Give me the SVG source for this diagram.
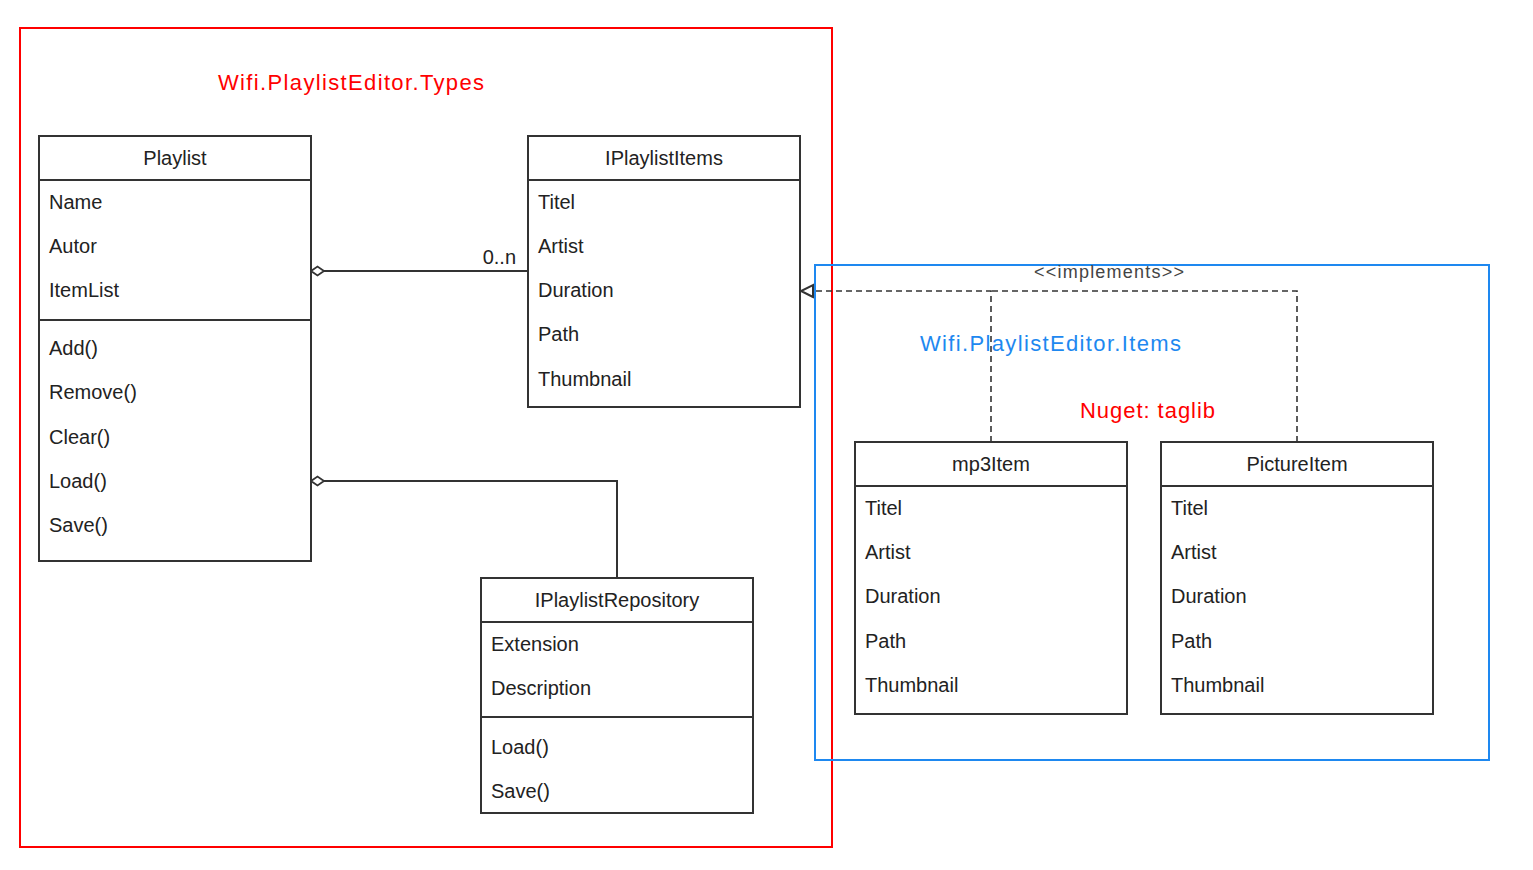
<svg xmlns="http://www.w3.org/2000/svg" width="1533" height="870" viewBox="0 0 1533 870">
<style>
.box{fill:#fff;stroke:#333;stroke-width:2}
.ln{fill:none;stroke:#333;stroke-width:2}
.t{font-family:"Liberation Sans",Arial,sans-serif;font-size:20px;fill:#222;dominant-baseline:central}
.h{text-anchor:middle}
.pkg{font-family:"Liberation Sans",Arial,sans-serif;font-size:22px;dominant-baseline:central}
.dash{fill:none;stroke:#333;stroke-width:1.6;stroke-dasharray:6,4}
</style>
<defs>
<marker id="dia" markerWidth="16" markerHeight="12" refX="1" refY="6" orient="auto" markerUnits="userSpaceOnUse">
<path d="M1,6 L7.5,1.5 L14,6 L7.5,10.5 Z" fill="#fff" stroke="#333" stroke-width="1.8"/>
</marker>
<marker id="tri" markerWidth="16" markerHeight="16" refX="13" refY="8" orient="auto" markerUnits="userSpaceOnUse">
<path d="M1,2 L13,8 L1,14 Z" fill="#fff" stroke="#333" stroke-width="2"/>
</marker>
</defs>
<rect width="1533" height="870" fill="#fff"/>
<g id="pkg-types">
<rect x="20" y="28" width="812" height="819" fill="none" stroke="#f00" stroke-width="2"/>
<text class="pkg" x="218" y="82" fill="#f00" textLength="266">Wifi.PlaylistEditor.Types</text>
</g>
<g id="pkg-items">
<rect x="815" y="265" width="674" height="495" fill="none" stroke="#1E88F0" stroke-width="2"/>
<text class="pkg" x="920" y="343" fill="#1E88F0" textLength="261">Wifi.PlaylistEditor.Items</text>
<text class="pkg" x="1080" y="410" fill="#f00" textLength="135">Nuget: taglib</text>
</g>
<g id="playlist">
<rect class="box" x="39" y="136" width="272" height="425"/>
<path class="ln" d="M39,180 H311 M39,320 H311"/>
<text class="t h" x="175" y="158">Playlist</text>
<text class="t" x="49" y="202">Name</text>
<text class="t" x="49" y="246">Autor</text>
<text class="t" x="49" y="290">ItemList</text>
<text class="t" x="49" y="348">Add()</text>
<text class="t" x="49" y="392">Remove()</text>
<text class="t" x="49" y="437">Clear()</text>
<text class="t" x="49" y="481">Load()</text>
<text class="t" x="49" y="525">Save()</text>
</g>
<g id="iplaylistitems">
<rect class="box" x="528" y="136" width="272" height="271"/>
<path class="ln" d="M528,180 H800"/>
<text class="t h" x="664" y="158">IPlaylistItems</text>
<text class="t" x="538" y="202">Titel</text>
<text class="t" x="538" y="246">Artist</text>
<text class="t" x="538" y="290">Duration</text>
<text class="t" x="538" y="334">Path</text>
<text class="t" x="538" y="379">Thumbnail</text>
</g>
<g id="iplaylistrepository">
<rect class="box" x="481" y="578" width="272" height="235"/>
<path class="ln" d="M481,622 H753 M481,717 H753"/>
<text class="t h" x="617" y="600">IPlaylistRepository</text>
<text class="t" x="491" y="644">Extension</text>
<text class="t" x="491" y="688">Description</text>
<text class="t" x="491" y="747">Load()</text>
<text class="t" x="491" y="791">Save()</text>
</g>
<g id="mp3item">
<rect class="box" x="855" y="442" width="272" height="272"/>
<path class="ln" d="M855,486 H1127"/>
<text class="t h" x="991" y="464">mp3Item</text>
<text class="t" x="865" y="508">Titel</text>
<text class="t" x="865" y="552">Artist</text>
<text class="t" x="865" y="596">Duration</text>
<text class="t" x="865" y="641">Path</text>
<text class="t" x="865" y="685">Thumbnail</text>
</g>
<g id="pictureitem">
<rect class="box" x="1161" y="442" width="272" height="272"/>
<path class="ln" d="M1161,486 H1433"/>
<text class="t h" x="1297" y="464">PictureItem</text>
<text class="t" x="1171" y="508">Titel</text>
<text class="t" x="1171" y="552">Artist</text>
<text class="t" x="1171" y="596">Duration</text>
<text class="t" x="1171" y="641">Path</text>
<text class="t" x="1171" y="685">Thumbnail</text>
</g>
<g id="connectors">
<path class="ln" d="M311,271 H528" marker-start="url(#dia)"/>
<text class="t" x="516" y="257" text-anchor="end">0..n</text>
<path class="ln" d="M311,481 H617 V578" marker-start="url(#dia)"/>
<path class="dash" d="M991,442 V291 H801" marker-end="url(#tri)"/>
<path class="dash" d="M1297,442 V291 H991"/>
<text x="1034" y="272" dominant-baseline="central" font-family="Liberation Sans,Arial,sans-serif" font-size="18" fill="#444" textLength="150">&lt;&lt;implements&gt;&gt;</text>
</g>
</svg>
